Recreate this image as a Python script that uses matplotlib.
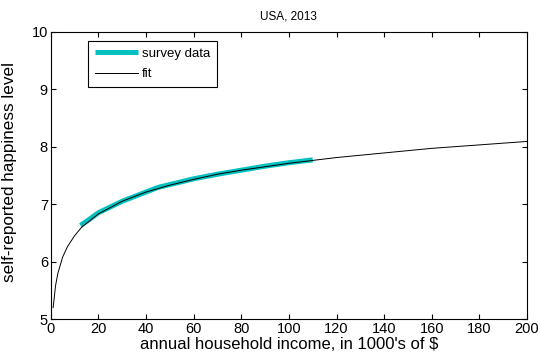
import matplotlib
matplotlib.use('Agg')
import matplotlib.pyplot as plt

plt.rcParams['font.family'] = ['Liberation Sans', 'DejaVu Sans']

# survey data
survey_x = [12.5, 15, 20, 25, 30, 35, 40, 45, 50, 60, 70, 80, 90, 100, 110]
survey_y = [6.63, 6.70, 6.85, 6.95, 7.05, 7.13, 7.21, 7.29, 7.34, 7.44, 7.52, 7.59, 7.66, 7.72, 7.77]

# fit curve
fit_x = [1, 2, 3, 5, 7, 10, 13, 20, 30, 40, 50, 60, 70, 80, 90, 100, 110, 120, 140, 160, 180, 200]
fit_y = [5.20, 5.58, 5.80, 6.08, 6.26, 6.45, 6.60, 6.83, 7.05, 7.21, 7.33, 7.43, 7.52, 7.59,
         7.65, 7.71, 7.76, 7.81, 7.89, 7.97, 8.03, 8.09]

xticks = list(range(0, 201, 20))
yticks = [5, 6, 7, 8, 9, 10]

fig = plt.figure(figsize=(5.4, 3.59), dpi=100)
ax = fig.add_axes([0.094, 0.111, 0.882, 0.801])

ax.plot(survey_x, survey_y, color='#00c0c0', linewidth=3.6, label='survey data', solid_capstyle='butt')
ax.plot(fit_x, fit_y, color='black', linewidth=0.7, label='fit')

ax.set_xlim(0, 200)
ax.set_ylim(5, 10)
ax.set_xticks(xticks)
ax.set_yticks(yticks)
ax.tick_params(direction='in', top=True, right=True, labelsize=10.5, length=3.5, width=0.8, pad=2)
for s in ax.spines.values():
    s.set_linewidth(0.8)

ax.set_title('USA, 2013', fontsize=8.5, pad=9)
ax.set_xlabel("annual household income, in 1000's of $", fontsize=12, labelpad=1)
ax.set_ylabel('self-reported happiness level', fontsize=12.3)
ax.yaxis.set_label_coords(-0.071, 0.51)

leg = ax.legend(loc='upper left', bbox_to_anchor=(0.078, 0.968), borderaxespad=0, fontsize=9.5,
                fancybox=False, edgecolor='black', framealpha=1, handlelength=3.3, borderpad=0.5,
                labelspacing=0.65, handletextpad=0.3)
leg.get_frame().set_linewidth(0.8)

fig.savefig('out.png', dpi=100)
